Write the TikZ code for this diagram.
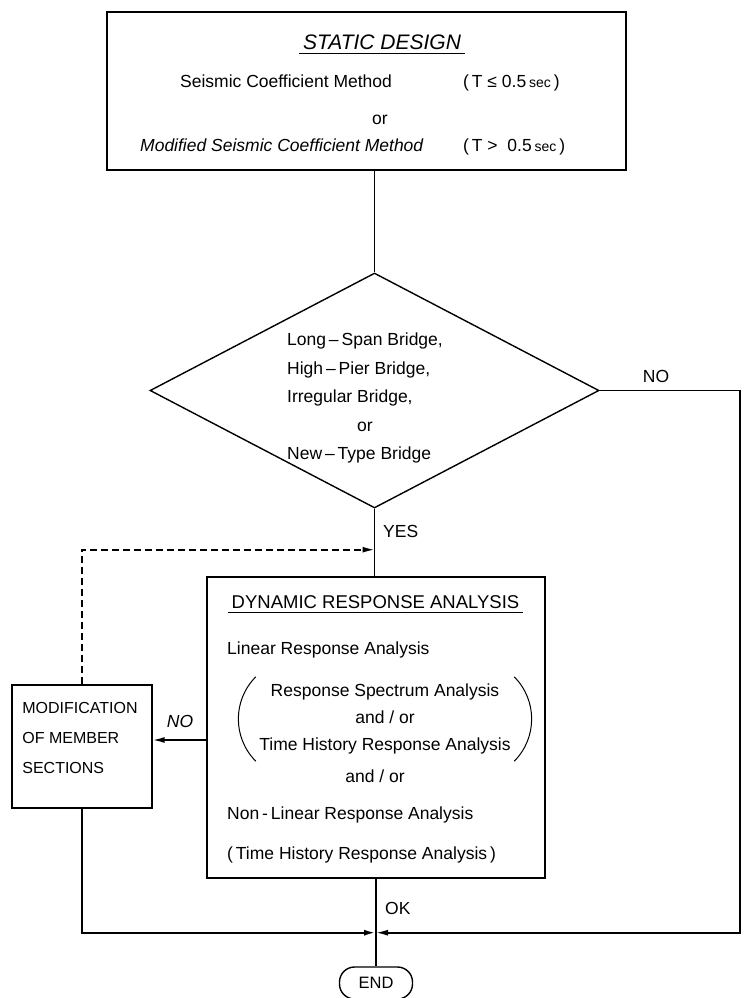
\documentclass[tikz,border=0pt]{standalone}
\usepackage{fontspec}
\setmainfont{Liberation Sans}
\usetikzlibrary{shapes.geometric,arrows.meta,positioning}
\tikzset{
        % Process boxes
        box/.style={draw, rectangle, line width=1.4pt, inner sep=0pt},
        % Decision node
        decision/.style={draw, diamond, line width=1.4pt, inner sep=0pt},
        % Terminal node
        terminal/.style={draw, rectangle, rounded corners=15pt, line width=1.4pt, minimum width=73pt, minimum height=32pt, font=\fontsize{16.5}{19}\selectfont},
        % Single text lines
        txt/.style={inner sep=0pt, text height=12.5pt, text depth=3.5pt, font=\fontsize{17.5}{20}\selectfont},
        title/.style={inner sep=4pt, font=\fontsize{18.5}{22}\selectfont},
        % Connectors
        flow/.style={line width=1.6pt},
        loopback/.style={flow, dash pattern=on 7pt off 4pt}
}
\begin{document}
\begin{tikzpicture}[x=1pt, y=1pt, >={Latex[length=12pt,width=6pt]}]
    \useasboundingbox (0,0) rectangle (744,-998);

    % static design
    \node[box, minimum width=519pt, minimum height=158pt] (static) at (366.5,-91) {};
    \node[title, font=\fontsize{21}{25}\selectfont\itshape] (stitle) at (382,-42) {STATIC DESIGN};
    \draw[line width=1pt] (stitle.south west) -- (stitle.south east);
    \node[txt, anchor=west] (seis) at (180,-83) {Seismic Coefficient Method};
    \node[txt, anchor=west] (cond1) at (463,-83) {(\,T ≤ 0.5\,{\fontsize{14}{16}\selectfont sec}\,)};
    \node[txt] (sor) at (380,-120) {or};
    \node[txt, anchor=west, font=\fontsize{17.5}{20}\selectfont\itshape] (modseis) at (140,-147) {Modified Seismic Coefficient Method};
    \node[txt, anchor=west] (cond2) at (463,-147) {(\,T > \ 0.5\,{\fontsize{14}{16}\selectfont sec}\,)};

    % bridge type check
    \node[decision, minimum width=449pt, minimum height=235pt] (dec) at (374.5,-390.5) {};
    \node[inner sep=0pt, font=\fontsize{17.5}{20.4}\selectfont] (dectext) at (365,-397) {%
        \renewcommand{\arraystretch}{1.4}%
        \begin{tabular}{@{}l@{}}
            Long\,--\,Span Bridge,\\
            High\,--\,Pier Bridge,\\
            Irregular Bridge,\\
            \multicolumn{1}{@{}c@{}}{or}\\
            New\,--\,Type Bridge
        \end{tabular}};
    \draw[flow] (static.south -| dec.north) -- (dec.north);

    % dynamic analysis
    \node[box, minimum width=338pt, minimum height=301pt] (dyn) at (376,-727.5) {};
    \node[title] (dtitle) at (375.5,-602) {DYNAMIC RESPONSE ANALYSIS};
    \draw[line width=1pt] (dtitle.south west) -- (dtitle.south east);
    \node[txt, anchor=west] (lin) at (227,-650) {Linear Response Analysis};
    \node[align=center, inner sep=0pt, minimum width=258pt, minimum height=84pt, font=\fontsize{17.5}{27}\selectfont] (resp) at (385,-719)
        {Response Spectrum Analysis\\and / or\\Time History Response Analysis};
    \draw[line width=1pt] (resp.north west) to[bend right=45] (resp.south west);
    \draw[line width=1pt] (resp.north east) to[bend left=45] (resp.south east);
    \node[txt] (andor) at (375,-778) {and / or};
    \node[txt, anchor=west] (nonlin) at (227,-815) {Non\,-\,Linear Response Analysis};
    \node[txt, anchor=west] (thist) at (227,-855) {(\,Time History Response Analysis\,)};

    % modification
    \node[box, minimum width=140pt, minimum height=123pt] (mod) at (82,-746.5) {};
    \node[align=left, inner sep=0pt, font=\fontsize{16}{30}\selectfont] (modtext) at (80,-738) {MODIFICATION\\OF MEMBER\\SECTIONS};

    % end
    \node[terminal] (end) at (376,-983) {END};

    % connectors
    \coordinate (loopIn) at ([yshift=-41pt]dec.south);
    \coordinate (join) at ([yshift=-54pt]dyn.south);
    \coordinate (rail) at (740,-390.5);
    \draw[flow] (dec.south) -- (dec.south |- dyn.north);
    \draw[loopback, ->] (mod.north) |- (loopIn);
    \draw[flow, ->] ([yshift=-12.5pt]dyn.west) -- ([yshift=-12.5pt]dyn.west -| mod.east);
    \draw[flow, ->] (dec.east) -- (rail) -- (rail |- join) -- (join);
    \draw[flow, line width=2.2pt, ->] (mod.south) |- (join);
    \draw[flow] (dyn.south) -- (end.north);

    % labels
    \node[txt] (nodec) at (656,-378) {NO};
    \node[txt, anchor=west] (yes) at (383,-533) {YES};
    \node[txt, font=\fontsize{17.5}{20}\selectfont\itshape] (nodyn) at (180,-723) {NO};
    \node[txt, anchor=west] (ok) at (385,-910) {OK};
\end{tikzpicture}
\end{document}
